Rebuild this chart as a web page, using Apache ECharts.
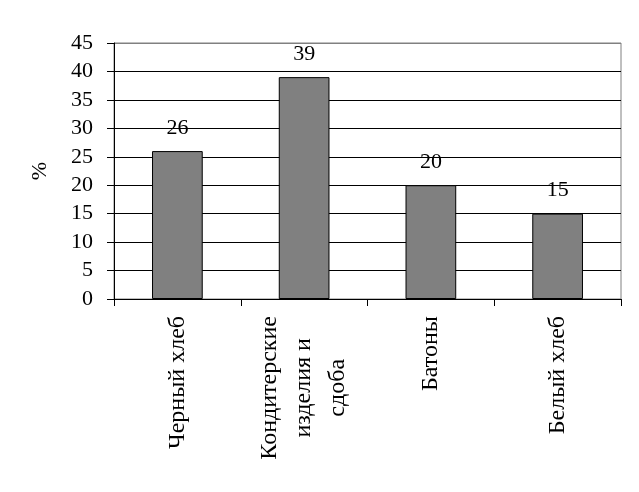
<!DOCTYPE html>
<html>
<head>
<meta charset="utf-8">
<script src="https://cdn.jsdelivr.net/npm/echarts@6/dist/echarts.min.js"></script>
<style>html,body{margin:0;padding:0;background:#fff;}#c{width:639px;height:492px;}</style>
</head>
<body>
<div id="c"></div>
<script>
const categories = ['Черный хлеб', 'Кондитерские\nизделия и\nсдоба', 'Батоны', 'Белый хлеб'];
const values = [26, 39, 20, 15];
const yTicks = [0, 5, 10, 15, 20, 25, 30, 35, 40, 45];
const yName = '%';

const FONT = '"Liberation Serif", "Times New Roman", serif';
const chart = echarts.init(document.getElementById('c'), null, {renderer: 'canvas'});
const splitColors = yTicks.map((t, i) => i === yTicks.length - 1 ? '#808080' : '#000');
chart.setOption({
  animation: false,
  backgroundColor: '#fff',
  grid: {left: 114, right: 18, top: 43, bottom: 193, show: true, borderColor: '#808080', borderWidth: 1, backgroundColor: 'transparent'},
  xAxis: {
    type: 'category',
    data: categories,
    axisLine: {lineStyle: {color: '#000', width: 1}},
    axisTick: {show: true, length: 7, lineStyle: {color: '#000'}},
    axisLabel: {
      rotate: 90, margin: 17, color: '#000', fontFamily: FONT, fontSize: 24, lineHeight: 34,
      interval: 0,
      formatter: v => v.indexOf('\n') >= 0 ? v.split('\n').map(l => '{c|' + l + '}').join('\n') : v,
      rich: {c: {align: 'center', fontFamily: FONT, fontSize: 24, lineHeight: 34, color: '#000'}}
    }
  },
  yAxis: {
    type: 'value', min: yTicks[0], max: yTicks[yTicks.length - 1], interval: 5,
    name: yName, nameLocation: 'middle', nameRotate: 90, nameGap: 63,
    nameTextStyle: {fontFamily: FONT, fontSize: 22, color: '#000'},
    axisLine: {show: true, lineStyle: {color: '#000', width: 1}},
    axisTick: {show: true, length: 7, lineStyle: {color: '#000'}},
    axisLabel: {color: '#000', fontFamily: FONT, fontSize: 22, margin: 21},
    splitLine: {show: true, lineStyle: {color: splitColors, width: 1}}
  },
  series: [{
    type: 'bar',
    data: values,
    barWidth: '40%',
    itemStyle: {color: '#808080', borderColor: '#000', borderWidth: 1},
    label: {show: true, position: 'top', distance: 12, color: '#000', fontFamily: FONT, fontSize: 22}
  }]
});
</script>
</body>
</html>
